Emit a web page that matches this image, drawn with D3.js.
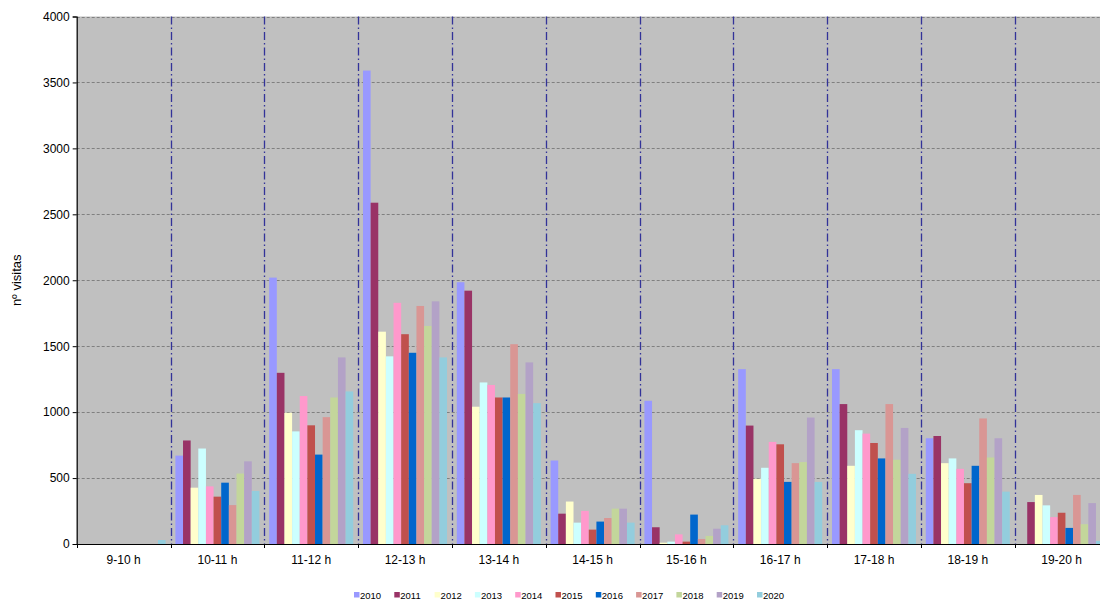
<!DOCTYPE html>
<html>
<head>
<meta charset="utf-8">
<script src="https://cdn.jsdelivr.net/npm/d3@7"></script>
<style>
  body { margin: 0; background: #ffffff; }
  svg { display: block; font-family: Arial, "Liberation Sans", sans-serif; }
</style>
</head>
<body>
<svg id="chart" width="1100" height="603"></svg>
<script>
const categories = ["9-10 h","10-11 h","11-12 h","12-13 h","13-14 h","14-15 h","15-16 h","16-17 h","17-18 h","18-19 h","19-20 h"];
const years = ["2010","2011","2012","2013","2014","2015","2016","2017","2018","2019","2020"];
const colors = ["#9999FF","#993366","#FFFFCC","#CCFFFF","#FF99CC","#C0504D","#0066CC","#D99694","#C3D69B","#B3A2C7","#93CDDD"];

const v2010 = [0, 670, 2020, 3590, 1985, 633, 1086, 1326, 1326, 802, 0];
const v2011 = [0, 785, 1298, 2588, 1921, 230, 127, 898, 1061, 819, 318];
const v2012 = [0, 427, 995, 1610, 1041, 322, 10, 494, 593, 613, 372];
const v2013 = [0, 724, 854, 1423, 1225, 162, 18, 578, 863, 649, 293];
const v2014 = [0, 437, 1122, 1829, 1206, 251, 73, 774, 837, 570, 204];
const v2015 = [0, 359, 900, 1591, 1111, 109, 18, 756, 766, 461, 237];
const v2016 = [0, 465, 678, 1450, 1111, 170, 223, 471, 649, 593, 122];
const v2017 = [0, 295, 962, 1805, 1515, 197, 38, 613, 1061, 952, 372];
const v2018 = [0, 534, 1111, 1653, 1138, 268, 61, 621, 639, 656, 150];
const v2019 = [0, 627, 1415, 1840, 1377, 268, 116, 959, 880, 802, 310];
const v2020 = [30, 402, 1157, 1415, 1068, 162, 142, 471, 532, 397, 23];
const series = [v2010, v2011, v2012, v2013, v2014, v2015, v2016, v2017, v2018, v2019, v2020];

const yTicks = [0, 500, 1000, 1500, 2000, 2500, 3000, 3500, 4000];
const yTitle = "nº visitas";

(function () {
const svg = d3.select("#chart");
const pL = 76.7, pT = 16.5, pR = 1108.5, pB = 544;

const x0 = d3.scaleBand().domain(categories).range([pL, pR]).padding(0);
const x1 = d3.scaleBand().domain(years).range([0, x0.bandwidth()]).paddingInner(0).paddingOuter(0.64);
const y = d3.scaleLinear().domain([0, 4000]).range([pB, pT]);

// plot background
svg.append("rect").attr("x", pL).attr("y", pT)
  .attr("width", pR - pL).attr("height", pB - pT).attr("fill", "#C0C0C0");

// horizontal gridlines
svg.append("g").selectAll("line").data(yTicks.filter(d => d > 0)).join("line")
  .attr("x1", pL).attr("x2", pR)
  .attr("y1", d => Math.round(y(d)) + 0.5).attr("y2", d => Math.round(y(d)) + 0.5)
  .attr("stroke", "#808080").attr("stroke-width", 1).attr("stroke-dasharray", "3,2");

// vertical category dividers (dash-dot)
const bounds = categories.slice(1).map(c => x0(c)).concat([pR]);
svg.append("g").selectAll("line").data(bounds).join("line")
  .attr("x1", d => Math.round(d) + 0.5).attr("x2", d => Math.round(d) + 0.5)
  .attr("y1", pT).attr("y2", pB)
  .attr("stroke", "#333399").attr("stroke-width", 1.3).attr("stroke-dasharray", "8,3,1.5,3");

// bars
const data = [];
categories.forEach((c, ci) => {
  years.forEach((yr, si) => data.push({c, yr, si, v: series[si][ci]}));
});
svg.append("g").selectAll("rect").data(data.filter(d => d.v > 0)).join("rect")
  .attr("x", d => x0(d.c) + x1(d.yr))
  .attr("y", d => y(d.v))
  .attr("width", x1.bandwidth())
  .attr("height", d => y(0) - y(d.v))
  .attr("fill", d => colors[d.si]);

// y axis
const yAxis = svg.append("g").attr("transform", `translate(${pL},0)`)
  .call(d3.axisLeft(y).tickValues(yTicks).tickSize(4).tickPadding(3).tickFormat(d3.format("d")));
yAxis.select(".domain").attr("stroke", "#000").attr("stroke-width", 1.2);
yAxis.selectAll(".tick line").attr("stroke", "#000");
yAxis.selectAll(".tick text").attr("font-size", 12).attr("fill", "#000")
  .attr("font-family", "Arial, 'Liberation Sans', sans-serif");

// x axis labels
const xAxis = svg.append("g").attr("transform", `translate(0,${pB})`)
  .call(d3.axisBottom(x0).tickSize(0).tickPadding(11));
xAxis.select(".domain").remove();
xAxis.selectAll(".tick text").attr("font-size", 12).attr("fill", "#000")
  .attr("font-family", "Arial, 'Liberation Sans', sans-serif");

// x axis line + boundary ticks
svg.append("line").attr("x1", pL).attr("x2", pR).attr("y1", pB + 0.5).attr("y2", pB + 0.5)
  .attr("stroke", "#000").attr("stroke-width", 1.2);
svg.append("g").selectAll("line").data([pL].concat(bounds)).join("line")
  .attr("x1", d => Math.round(d) + 0.5).attr("x2", d => Math.round(d) + 0.5)
  .attr("y1", pB).attr("y2", pB + 4)
  .attr("stroke", "#000").attr("stroke-width", 1);

// y title
svg.append("text").attr("transform", `translate(21,${(pT + pB) / 2}) rotate(-90)`)
  .attr("text-anchor", "middle").attr("font-size", 13).attr("fill", "#000")
  .text(yTitle);

// legend
const lg = svg.append("g").attr("transform", "translate(354,0)");
const li = lg.selectAll("g").data(years).join("g")
  .attr("transform", (d, i) => `translate(${i * 40.3},0)`);
li.append("rect").attr("x", 0).attr("y", 592).attr("width", 5.5).attr("height", 5.5)
  .attr("fill", (d, i) => colors[i]);
li.append("text").attr("x", 6).attr("y", 598.5).attr("font-size", 9.5).attr("fill", "#000")
  .text(d => d);
})();
</script>
</body>
</html>
